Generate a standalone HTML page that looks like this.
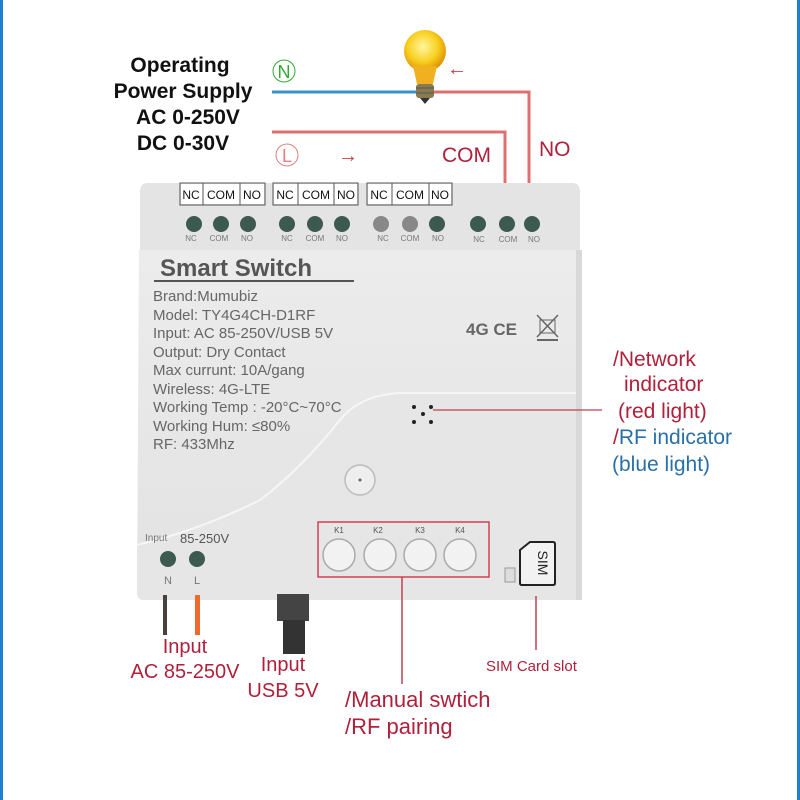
<!DOCTYPE html>
<html><head><meta charset="utf-8"><style>
html,body{margin:0;padding:0;background:#fff}
svg{display:block}
text{font-family:"Liberation Sans","DejaVu Sans",sans-serif}
</style></head><body>
<svg width="800" height="800" viewBox="0 0 800 800" xmlns="http://www.w3.org/2000/svg">
<defs>
<radialGradient id="bulb" cx="0.45" cy="0.4" r="0.6"><stop offset="0" stop-color="#fff6a0"/><stop offset="0.6" stop-color="#f8d020"/><stop offset="1" stop-color="#e09000"/></radialGradient>
<linearGradient id="body" x1="0" y1="0" x2="0" y2="1"><stop offset="0" stop-color="#ececec"/><stop offset="1" stop-color="#e2e2e2"/></linearGradient>
</defs>
<rect x="0" y="0" width="800" height="800" fill="#fff"/>
<rect x="0" y="0" width="3" height="800" fill="#1f7fd0"/>
<rect x="797" y="0" width="3" height="800" fill="#1f7fd0"/>

<g font-weight="bold" font-size="21" fill="#111" text-anchor="middle">
<text x="180" y="72">Operating</text>
<text x="183" y="98">Power Supply</text>
<text x="188" y="124">AC 0-250V</text>
<text x="183" y="150">DC 0-30V</text>
</g>
<circle cx="284" cy="71" r="11" fill="none" stroke="#3a3" stroke-width="1"/>
<text x="284" y="78" font-size="18" fill="#3a3" text-anchor="middle">N</text>
<circle cx="287" cy="155" r="11" fill="none" stroke="#e08080" stroke-width="1"/>
<text x="287" y="162" font-size="18" fill="#e08080" text-anchor="middle">L</text>

<line x1="272" y1="92" x2="420" y2="92" stroke="#3a90c8" stroke-width="3"/>
<polyline points="432,92 529,92 529,215" fill="none" stroke="#e07070" stroke-width="3"/>
<polyline points="272,132 505,132 505,215" fill="none" stroke="#e07070" stroke-width="3"/>
<text x="447" y="75" font-size="20" fill="#d04040">←</text>
<text x="338" y="162" font-size="20" fill="#d04040">→</text>
<text x="442" y="162" font-size="21" fill="#b0203a">COM</text>
<text x="539" y="156" font-size="21" fill="#b0203a">NO</text>

<circle cx="425" cy="51" r="21" fill="url(#bulb)"/>
<path d="M413 66 L437 66 L433 84 L417 84 Z" fill="#f0b020"/>
<rect x="416" y="84" width="18" height="14" rx="3" fill="#8a7a50"/>
<line x1="416" y1="88" x2="434" y2="88" stroke="#555"/>
<line x1="416" y1="93" x2="434" y2="93" stroke="#555"/>
<path d="M420 98 L430 98 L425 104 Z" fill="#333"/>

<path d="M148 183 L572 183 Q580 183 580 192 L580 255 L140 255 L140 192 Q140 183 148 183 Z" fill="#e4e4e4"/>
<g font-size="12" fill="#111" text-anchor="middle">
<rect x="181" y="184" width="83" height="20" fill="#fff"/>
<rect x="274" y="184" width="83" height="20" fill="#fff"/>
<rect x="368" y="184" width="83" height="20" fill="#fff"/>
<g fill="none" stroke="#555" stroke-width="1">
<rect x="180" y="183" width="85" height="22"/><line x1="203" y1="183" x2="203" y2="205"/><line x1="240" y1="183" x2="240" y2="205"/>
<rect x="273" y="183" width="85" height="22"/><line x1="298" y1="183" x2="298" y2="205"/><line x1="334" y1="183" x2="334" y2="205"/>
<rect x="367" y="183" width="85" height="22"/><line x1="392" y1="183" x2="392" y2="205"/><line x1="429" y1="183" x2="429" y2="205"/>
</g>
<text x="191" y="199">NC</text><text x="221" y="199">COM</text><text x="252" y="199">NO</text>
<text x="285" y="199">NC</text><text x="316" y="199">COM</text><text x="346" y="199">NO</text>
<text x="379" y="199">NC</text><text x="410" y="199">COM</text><text x="440" y="199">NO</text>
</g>
<g fill="#3d5a50">
<circle cx="194" cy="224" r="8"/><circle cx="221" cy="224" r="8"/><circle cx="248" cy="224" r="8"/>
<circle cx="287" cy="224" r="8"/><circle cx="315" cy="224" r="8"/><circle cx="342" cy="224" r="8"/>
<circle cx="381" cy="224" r="8" fill="#888"/><circle cx="410" cy="224" r="8" fill="#888"/><circle cx="437" cy="224" r="8"/>
<circle cx="478" cy="224" r="8"/><circle cx="507" cy="224" r="8"/><circle cx="532" cy="224" r="8"/>
</g>
<g font-size="8" fill="#777" text-anchor="middle">
<text x="191" y="241">NC</text><text x="219" y="241">COM</text><text x="247" y="241">NO</text>
<text x="287" y="241">NC</text><text x="315" y="241">COM</text><text x="342" y="241">NO</text>
<text x="383" y="241">NC</text><text x="410" y="241">COM</text><text x="438" y="241">NO</text>
<text x="479" y="242">NC</text><text x="508" y="242">COM</text><text x="534" y="242">NO</text>
</g>

<path d="M139 250 L576 250 L578 600 L144 600 Q137 600 137 592 Z" fill="url(#body)"/>
<path d="M137 545 Q200 530 260 500 Q300 470 340 420 Q360 395 400 393 L578 393 L578 600 L144 600 Q137 600 137 592 Z" fill="#e6e6e6"/>
<path d="M137 545 Q200 530 260 500 Q300 470 340 420 Q360 395 400 393 L578 393" fill="none" stroke="#f6f6f6" stroke-width="2"/>
<rect x="576" y="250" width="6" height="350" fill="#d8d8d8"/>

<text x="160" y="276" font-size="24" font-weight="bold" fill="#555">Smart  Switch</text>
<line x1="154" y1="281" x2="354" y2="281" stroke="#555" stroke-width="2"/>
<g font-size="15" fill="#666">
<text x="153" y="301">Brand:Mumubiz</text>
<text x="153" y="320">Model:  TY4G4CH-D1RF</text>
<text x="153" y="338">Input:  AC 85-250V/USB 5V</text>
<text x="153" y="357">Output:  Dry Contact</text>
<text x="153" y="375">Max currunt:  10A/gang</text>
<text x="153" y="394">Wireless:  4G-LTE</text>
<text x="153" y="412">Working Temp :  -20°C~70°C</text>
<text x="153" y="431">Working Hum:  ≤80%</text>
<text x="153" y="449">RF:  433Mhz</text>
</g>
<text x="466" y="335" font-size="17" font-weight="bold" fill="#666">4G  CE</text>
<path d="M537 315 L558 337 M558 315 L537 337" stroke="#666" stroke-width="1.5"/>
<rect x="540" y="320" width="15" height="13" fill="none" stroke="#666"/>
<line x1="537" y1="340" x2="558" y2="340" stroke="#666" stroke-width="2"/>
<g fill="#222"><circle cx="414" cy="407" r="2"/><circle cx="431" cy="407" r="2"/><circle cx="423" cy="414" r="2"/><circle cx="414" cy="422" r="2"/><circle cx="431" cy="422" r="2"/></g>
<line x1="433" y1="410" x2="602" y2="410" stroke="#c04050" stroke-width="1.2"/>
<circle cx="360" cy="480" r="15" fill="#eee" stroke="#bbb" stroke-width="1.5"/>
<circle cx="360" cy="480" r="1.5" fill="#666"/>

<text x="145" y="541" font-size="10" fill="#777">Input</text>
<text x="180" y="543" font-size="13" fill="#555">85-250V</text>
<circle cx="168" cy="559" r="8" fill="#3d5a50"/><circle cx="197" cy="559" r="8" fill="#3d5a50"/>
<text x="168" y="584" font-size="11" fill="#777" text-anchor="middle">N</text>
<text x="197" y="584" font-size="11" fill="#777" text-anchor="middle">L</text>

<rect x="318" y="522" width="171" height="55" fill="none" stroke="#d04050" stroke-width="1.5"/>
<g font-size="8" fill="#555" text-anchor="middle"><text x="339" y="533">K1</text><text x="378" y="533">K2</text><text x="420" y="533">K3</text><text x="460" y="533">K4</text></g>
<g fill="#f2f2f2" stroke="#aaa" stroke-width="1.5">
<circle cx="339" cy="555" r="16"/><circle cx="380" cy="555" r="16"/><circle cx="420" cy="555" r="16"/><circle cx="460" cy="555" r="16"/>
</g>
<path d="M520 550 L530 542 L553 542 Q555 542 555 544 L555 583 Q555 585 553 585 L522 585 Q520 585 520 583 Z" fill="#f2f2f2" stroke="#222" stroke-width="2"/>
<text x="538" y="563" font-size="14" fill="#222" text-anchor="middle" transform="rotate(90 538 563)">SIM</text>
<rect x="505" y="568" width="10" height="14" fill="#ddd" stroke="#999"/>

<rect x="163" y="595" width="4" height="40" fill="#4a4238"/>
<rect x="195" y="595" width="5" height="40" fill="#f06a30"/>
<rect x="277" y="594" width="32" height="27" fill="#444"/>
<rect x="283" y="620" width="22" height="34" fill="#333"/>
<line x1="402" y1="577" x2="402" y2="684" stroke="#c04050" stroke-width="1.5"/>
<line x1="536" y1="596" x2="536" y2="650" stroke="#c04050" stroke-width="1.5"/>

<g fill="#b0203a">
<text x="185" y="653" font-size="20" text-anchor="middle">Input</text>
<text x="185" y="678" font-size="20" text-anchor="middle">AC 85-250V</text>
<text x="283" y="671" font-size="20" text-anchor="middle">Input</text>
<text x="283" y="697" font-size="20" text-anchor="middle">USB 5V</text>
<text x="345" y="707" font-size="22">/Manual swtich</text>
<text x="345" y="734" font-size="22">/RF pairing</text>
<text x="486" y="671" font-size="15">SIM Card slot</text>
<text x="613" y="366" font-size="21">/Network</text>
<text x="624" y="391" font-size="21">indicator</text>
<text x="618" y="418" font-size="21">(red light)</text>
<text x="613" y="444" font-size="21">/<tspan fill="#2a70a8">RF indicator</tspan></text>
<text x="612" y="471" font-size="21" fill="#2a70a8">(blue  light)</text>
</g>
</svg>
</body></html>
